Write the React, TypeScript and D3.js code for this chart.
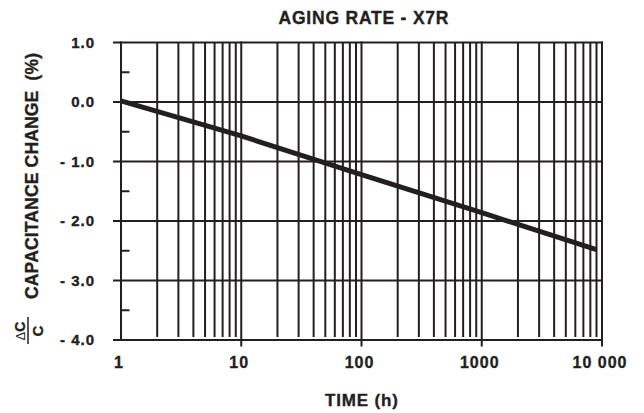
import React from "react";
import * as d3 from "d3";

const timeHours = [1, 10, 100, 1000, 9000];
const capChange = [0.02, -0.57, -1.22, -1.86, -2.48];
const xMajorTicks = [1, 10, 100, 1000, 10000];
const xTickLabels = ["1", "10", "100", "1000", "10 000"];
const yMajorTicks = [1, 0, -1, -2, -3, -4];
const yTickLabels = ["1.0", "0.0", "- 1.0", "- 2.0", "- 3.0", "- 4.0"];
const yMinorTicks = [0.5, -0.5, -1.5, -2.5, -3.5];
const title = "AGING RATE - X7R";
const xTitle = "TIME (h)";
const yTitle = "CAPACITANCE CHANGE  (%)";

const W = 644;
const H = 413;
const L = 121;
const R = 602;
const T = 42.5;
const B = 340;
const INK = "#231f20";
const FONT = "Arial, 'Liberation Sans', Helvetica, sans-serif";

export default function App() {
  const x = d3.scaleLog().domain([1, 10000]).range([L, R]);
  const y = d3.scaleLinear().domain([-4, 1]).range([B, T]);

  const minorX: number[] = [];
  for (let dec = 1; dec < 10000; dec *= 10) {
    for (let m = 2; m <= 9; m++) minorX.push(dec * m);
  }

  const line = d3
    .line<number>()
    .x((_, i) => x(timeHours[i]))
    .y((d) => y(d));

  const textStroke = { stroke: INK, strokeWidth: 0.35 };

  return (
    <svg
      width={W}
      height={H}
      style={{ position: "absolute", left: 0, top: 0, background: "#fff" }}
      fontFamily={FONT}
      fontWeight="bold"
      fill={INK}
    >
      {/* minor vertical gridlines */}
      {minorX.map((v) => (
        <line key={"mx" + v} x1={x(v)} x2={x(v)} y1={T} y2={B - 3} stroke={INK} strokeWidth={2} />
      ))}
      {/* major vertical lines with ticks below */}
      {xMajorTicks.map((v) => (
        <line key={"Mx" + v} x1={x(v)} x2={x(v)} y1={T - 1} y2={v === 1 ? B + 1 : B + 6.5} stroke={INK} strokeWidth={2} />
      ))}
      {/* horizontal major lines */}
      {yMajorTicks.map((v) => (
        <line key={"My" + v} x1={L - 8} x2={R + 1} y1={y(v)} y2={y(v)} stroke={INK} strokeWidth={2} />
      ))}
      {/* minor y ticks inside */}
      {yMinorTicks.map((v) => (
        <line key={"my" + v} x1={L} x2={L + 8.5} y1={y(v)} y2={y(v)} stroke={INK} strokeWidth={2} />
      ))}
      {/* data line */}
      <path d={line(capChange) || ""} fill="none" stroke={INK} strokeWidth={5} />

      {/* tick labels */}
      {yMajorTicks.map((v, i) => (
        <text key={"yl" + v} x={95} y={y(v)} dy="0.36em" textAnchor="end" fontSize={15} letterSpacing={1} {...textStroke}>
          {yTickLabels[i]}
        </text>
      ))}
      {xMajorTicks.map((v, i) => (
        <text key={"xl" + v} x={x(v) - 2} y={368} textAnchor="middle" fontSize={16} letterSpacing={1} {...textStroke}>
          {xTickLabels[i]}
        </text>
      ))}

      {/* titles */}
      <text x={363.5} y={24} textAnchor="middle" fontSize={17.5} textLength={170} lengthAdjust="spacing" {...textStroke}>
        {title}
      </text>
      <text x={361.5} y={406} textAnchor="middle" fontSize={17} textLength={73} lengthAdjust="spacing" {...textStroke}>
        {xTitle}
      </text>
      <g transform="rotate(-90)">
        <text
          x={-176}
          y={38}
          textAnchor="middle"
          fontSize={17.5}
          textLength={246}
          lengthAdjust="spacing"
          style={{ whiteSpace: "pre" }}
          {...textStroke}
        >
          {yTitle}
        </text>
        <text x={-331} y={25} textAnchor="middle" fontSize={14} {...textStroke}>
          <tspan fontWeight="normal" fontSize={13} stroke="none">Δ</tspan>C
        </text>
        <line x1={-344} x2={-317} y1={28} y2={28} stroke={INK} strokeWidth={1.5} />
        <text x={-331} y={42.5} textAnchor="middle" fontSize={15} {...textStroke}>
          C
        </text>
      </g>
    </svg>
  );
}
